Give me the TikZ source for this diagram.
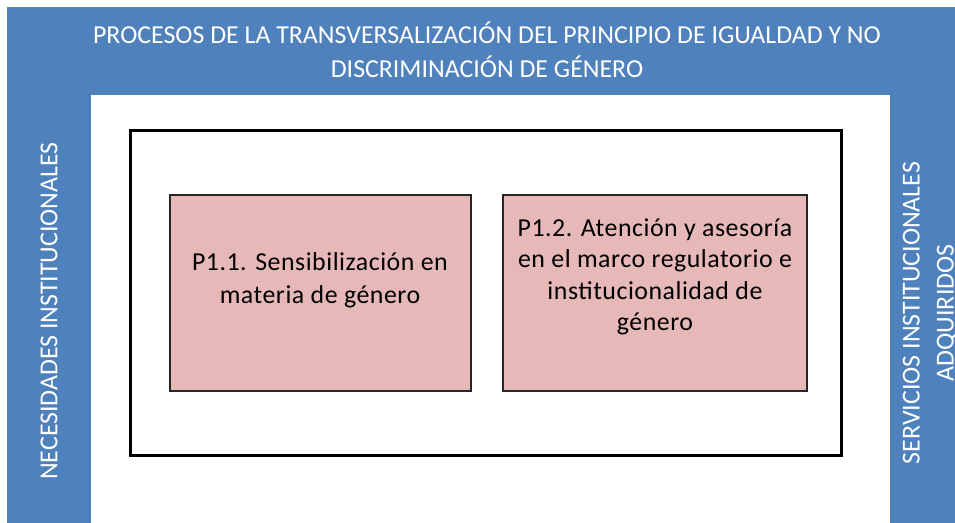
\documentclass[tikz,border=0pt]{standalone}
\usepackage{fontspec}
\setmainfont{Carlito}
\newfontfamily\spacedfont[LetterSpace=2.0]{Carlito}
\definecolor{barblue}{HTML}{4F81BD}
\definecolor{boxpink}{HTML}{E6B9B8}
\begin{document}
\begin{tikzpicture}[x=0.75pt,y=-0.75pt,
  bar/.style={fill=barblue,draw=none},
  bartext/.style={text=white,font=\fontsize{19.4}{25.5}\selectfont,align=center,inner sep=0pt},
  pinkbox/.style={fill=boxpink,draw=black!85,line width=1.5pt},
  pinktext/.style={text=black,align=center,inner sep=0pt}]
\useasboundingbox (0,0) rectangle (955,523);
\clip (0,0) rectangle (955,523);
% blue frame
\path[bar] (7,7) rectangle (980,95);
\path[bar] (7,95) rectangle (91,540);
\path[bar] (890,95) rectangle (980,540);
% title
\node[bartext] (title) at (487,50)
  {PROCESOS DE LA TRANSVERSALIZACIÓN DEL PRINCIPIO DE IGUALDAD Y NO\\DISCRIMINACIÓN DE GÉNERO};
\node[bartext,rotate=90] (left) at (49,311) {NECESIDADES INSTITUCIONALES};
\node[bartext,rotate=90,anchor=center] (right) at (930,313)
  {SERVICIOS INSTITUCIONALES\\ADQUIRIDOS};
% inner frame
\node[draw=black,line width=2.25pt,minimum width=711pt*0.75,minimum height=325pt*0.75,inner sep=0pt] (frame) at (485.5,293) {};
% pink boxes
\path[pinkbox] (169.5,195.5) rectangle (471,391);
\node (b1) at (320.25,293.25) {};
\path[pinkbox] (503,195.5) rectangle (807,391);
\node (b2) at (655,293.25) {};
\node[pinktext,font=\spacedfont\fontsize{19.4}{24.75}\selectfont] (t1) at (320,280)
  {P1.1. Sensibilización en\\materia de género};
\node[pinktext,font=\spacedfont\fontsize{19.4}{23.6}\selectfont] (t2) at (655,277)
  {P1.2. Atención y asesoría\\en el marco regulatorio e\\institucionalidad de\\género};
\end{tikzpicture}
\end{document}
